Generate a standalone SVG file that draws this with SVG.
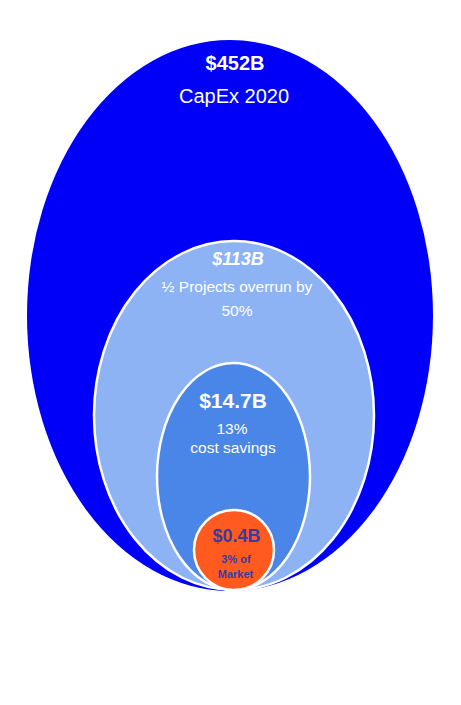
<svg xmlns="http://www.w3.org/2000/svg" width="461" height="705" viewBox="0 0 461 705">
<style>
text{font-family:"Liberation Sans",Arial,sans-serif;text-anchor:middle;fill:#fff}
.b{font-weight:bold}
.o{fill:#3b3b9e;font-weight:bold}
.ring{stroke:#fff;stroke-width:2.5}
</style>
<rect width="461" height="705" fill="#fff"/>
<g id="capex">
<ellipse cx="230" cy="315.5" rx="203" ry="275.5" fill="#0000fa"/>
<text class="b" x="235" y="70" font-size="20">$452B</text>
<text x="234" y="103" font-size="20">CapEx 2020</text>
</g>
<g id="overrun">
<ellipse class="ring" cx="234" cy="415.5" rx="140" ry="174.5" fill="#8db3f5"/>
<text class="b" x="238" y="265" font-size="18" font-style="italic">$113B</text>
<text x="237" y="292" font-size="15.5">½ Projects overrun by</text>
<text x="237" y="316" font-size="15.5">50%</text>
</g>
<g id="savings">
<ellipse class="ring" cx="233.5" cy="476.5" rx="76.5" ry="113.5" fill="#4a86e8"/>
<text class="b" x="233" y="408" font-size="21">$14.7B</text>
<text x="232" y="434" font-size="15.5">13%</text>
<text x="233" y="452.5" font-size="15.5">cost savings</text>
</g>
<g id="market">
<circle class="ring" cx="234" cy="550" r="40" fill="#ff5a1f" stroke-width="3"/>
<text class="o" x="236.5" y="541.5" font-size="18">$0.4B</text>
<text class="o" x="236" y="563" font-size="11">3% of</text>
<text class="o" x="235.5" y="577.5" font-size="11">Market</text>
</g>
<g id="connectors"/>
</svg>
